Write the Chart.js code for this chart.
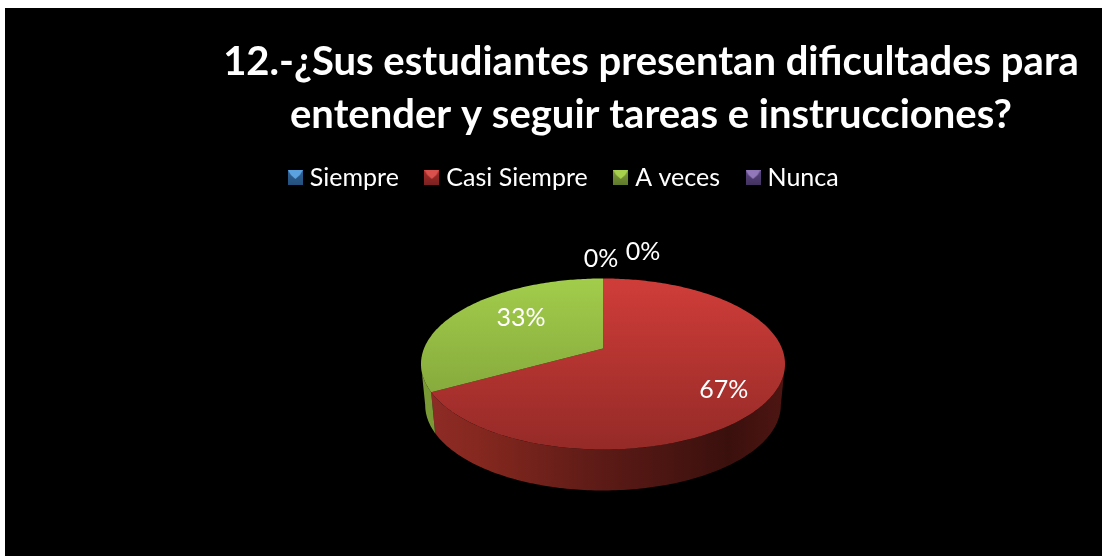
<!DOCTYPE html>
<html>
<head>
<meta charset="utf-8">
<style>
    html, body { margin: 0; padding: 0; background: #fff; overflow: hidden; }
    #chart { position: absolute; left: 5px; top: 8px; background: #000; }
</style>
<script src="https://cdn.jsdelivr.net/npm/chart.js@4"></script>
</head>
<body>
<canvas id="chart" width="1097" height="548"></canvas>
<script>
const categories = ['Siempre', 'Casi Siempre', 'A veces', 'Nunca'];
const values = [0, 67, 33, 0];
const valueLabels = ['0%', '67%', '33%', '0%'];
const titleLines = [
    '12.-¿Sus estudiantes presentan dificultades para',
    'entender y seguir tareas e instrucciones?'
];

const topColors = ['#4f81bd', '#d03d39', '#a2cd4b', '#8064a2'];
const bottomColors = ['#2f5688', '#952a27', '#7a9a36', '#503c70'];
const boxColors = [
    ['#5ba3e0', '#2f6299', '#24507c'],
    ['#d8514c', '#a52c2a', '#7b2220'],
    ['#a6d04d', '#7d9c3a', '#5f7a2c'],
    ['#9278b8', '#5b4682', '#443360']
];

// how the flat pie is tilted
const squash = 0.462;
const perspective = 0.181;
const depth = 41;
const bottomScale = 0.977;
const pieRadius = 179;
// label nudges from the slice's projected anchor point
const labelAnchors = [
    { r: 1, dx: 40, dy: -27 },
    { r: 0.72, dx: 2, dy: 9 },
    { r: 0.72, dx: 22, dy: -2 },
    { r: 1, dx: -2, dy: -20 }
];

function project(arc, angle, r, drop) {
    const u = Math.cos(angle) * r;
    const v = Math.sin(angle) * r;
    const w = 1 - perspective * v;
    const scale = drop ? bottomScale : 1;
    return {
        x: arc.x + arc.outerRadius * scale * u / w,
        y: arc.y + arc.outerRadius * squash * v / w + (drop || 0)
    };
}

function rimPath(ctx, arc, from, to, drop, first) {
    const steps = Math.max(2, Math.ceil(Math.abs(to - from) * 60));
    for (let i = 0; i <= steps; i++) {
        const p = project(arc, from + (to - from) * i / steps, 1, drop);
        if (i === 0 && first) ctx.moveTo(p.x, p.y);
        else ctx.lineTo(p.x, p.y);
    }
}

function makeLegendBox(c) {
    const box = document.createElement('canvas');
    box.width = 15;
    box.height = 15;
    const g = box.getContext('2d');
    const grad = g.createLinearGradient(0, 0, 0, 15);
    grad.addColorStop(0, c[1]);
    grad.addColorStop(1, c[2]);
    g.fillStyle = grad;
    g.fillRect(0, 0, 15, 15);
    g.fillStyle = c[0];
    g.beginPath();
    g.moveTo(0, 0);
    g.lineTo(15, 0);
    g.lineTo(12, 5);
    g.lineTo(7.5, 9);
    g.lineTo(3, 5);
    g.closePath();
    g.fill();
    return box;
}

const tiltedPie = {
    id: 'tiltedPie',
    afterLayout(chart) {
        // title and legend do not share the pie's centre in the original
        chart.titleBlock.left += 48;
        chart.titleBlock.right += 48;
        chart.legend.left -= 37;
        chart.legend.right -= 37;
        chart.legend.top -= 8;
        chart.legend.bottom -= 8;
    },
    beforeDatasetDraw(chart, args) {
        const ctx = chart.ctx;
        const arcs = args.meta.data;
        const wallStart = Math.asin(perspective);
        const wallEnd = Math.PI - wallStart;

        arcs.forEach(function (arc, i) {
            const from = Math.max(arc.startAngle, wallStart);
            const to = Math.min(arc.endAngle, wallEnd);
            if (arc.circumference === 0 || to <= from) return;
            ctx.beginPath();
            rimPath(ctx, arc, from, to, 0, true);
            rimPath(ctx, arc, to, from, depth, false);
            ctx.closePath();
            const left = arc.x - arc.outerRadius;
            const right = arc.x + arc.outerRadius;
            const wall = ctx.createLinearGradient(left, 0, right, 0);
            if (i === 1) {
                wall.addColorStop(0, '#8f2b27');
                wall.addColorStop(0.15, '#85281f');
                wall.addColorStop(0.5, '#5c1a16');
                wall.addColorStop(0.85, '#3a100d');
                wall.addColorStop(1, '#4d1512');
            } else {
                wall.addColorStop(0, bottomColors[i]);
                wall.addColorStop(1, bottomColors[i]);
            }
            ctx.fillStyle = wall;
            ctx.fill();
        });

        arcs.forEach(function (arc, i) {
            if (arc.circumference === 0) return;
            const centre = project(arc, 0, 0);
            const face = ctx.createLinearGradient(0, arc.y - arc.outerRadius * squash * 0.85, 0, arc.y + arc.outerRadius * squash * 1.2);
            face.addColorStop(0, topColors[i]);
            face.addColorStop(1, bottomColors[i]);
            ctx.beginPath();
            ctx.moveTo(centre.x, centre.y);
            rimPath(ctx, arc, arc.startAngle, arc.endAngle, 0, false);
            ctx.closePath();
            ctx.fillStyle = face;
            ctx.fill();
        });

        ctx.fillStyle = '#fff';
        ctx.font = '25px Lato';
        ctx.textAlign = 'center';
        ctx.textBaseline = 'middle';
        arcs.forEach(function (arc, i) {
            const a = labelAnchors[i];
            const p = project(arc, (arc.startAngle + arc.endAngle) / 2, a.r);
            ctx.fillText(valueLabels[i], p.x + a.dx, p.y + a.dy);
        });
        return false;
    }
};

new Chart(document.getElementById('chart'), {
    type: 'pie',
    plugins: [tiltedPie],
    data: {
        labels: categories,
        datasets: [{
            data: values,
            backgroundColor: topColors,
            radius: pieRadius,
            borderWidth: 0
        }]
    },
    options: {
        responsive: false,
        animation: false,
        layout: { padding: { left: 99, bottom: 67 } },
        plugins: {
            tooltip: { enabled: false },
            title: {
                display: true,
                text: titleLines,
                color: '#fff',
                font: { family: 'Lato', size: 40, weight: 'bold', lineHeight: 1.325 },
                padding: { top: 28, bottom: 0 }
            },
            legend: {
                display: true,
                position: 'top',
                labels: {
                    color: '#fff',
                    font: { family: 'Lato', size: 25 },
                    usePointStyle: true,
                    boxWidth: 4,
                    boxHeight: 11,
                    padding: 31,
                    generateLabels: function () {
                        return categories.map(function (name, i) {
                            return {
                                text: name,
                                fontColor: '#fff',
                                fillStyle: topColors[i],
                                strokeStyle: topColors[i],
                                lineWidth: 0,
                                pointStyle: makeLegendBox(boxColors[i]),
                                index: i
                            };
                        });
                    }
                }
            }
        }
    }
});
</script>
</body>
</html>
